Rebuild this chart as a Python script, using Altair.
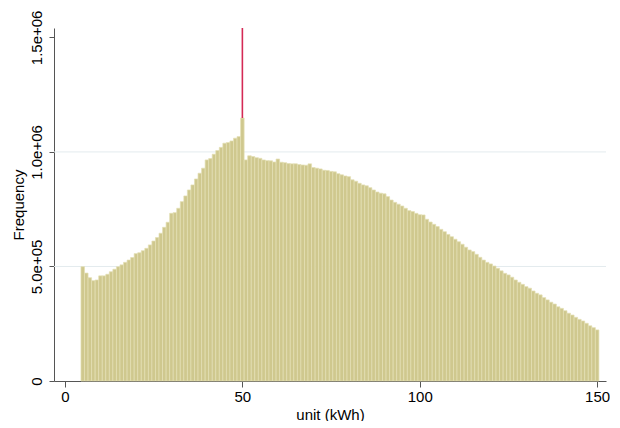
import altair as alt
import pandas as pd

# bin centres (unit, kWh) and frequencies
units = list(range(5, 151))
freq_k = [
    499, 471, 451, 438, 441, 459, 459, 466, 477, 488,
    499, 507, 518, 528, 539, 556, 560, 569, 579, 594,
    611, 626, 645, 671, 693, 732, 735, 754, 783, 808,
    834, 856, 882, 907, 929, 965, 971, 990, 1006, 1020,
    1038, 1041, 1048, 1060, 1067, 1148, 965, 983, 980, 975,
    972, 965, 962, 961, 956, 969, 955, 953, 949, 948,
    948, 945, 943, 942, 948, 932, 929, 926, 920, 919,
    915, 913, 905, 900, 895, 892, 878, 872, 863, 856,
    852, 844, 834, 825, 820, 817, 805, 790, 780, 772,
    764, 754, 744, 740, 732, 726, 725, 706, 694, 684,
    674, 662, 652, 640, 630, 619, 608, 597, 584, 572,
    565, 553, 540, 528, 518, 511, 502, 492, 481, 470,
    463, 453, 441, 431, 422, 412, 405, 393, 383, 376,
    364, 354, 344, 336, 324, 317, 307, 296, 288, 278,
    269, 262, 252, 241, 233, 223,
]
freq = [v * 1000 for v in freq_k]

marker_x = [50]
marker_lo = [1148000]
marker_hi = [1541000]

x_ticks = [0, 50, 100, 150]
y_ticks = [0, 500000, 1000000, 1500000]
grid_vals = [500000, 1000000]

x_domain = [-3.1, 152.5]
y_domain = [0, 1541000]

bars_df = pd.DataFrame({
    "lo": [u - 0.5 for u in units],
    "hi": [u + 0.5 for u in units],
    "freq": freq,
})
marker_df = pd.DataFrame({"x": marker_x, "lo": marker_lo, "hi": marker_hi})
grid_df = pd.DataFrame({"g": grid_vals})

FONT = "Liberation Sans"
FS = 15

xscale = alt.Scale(domain=x_domain, nice=False, zero=False)
yscale = alt.Scale(domain=y_domain, nice=False)

x_axis = alt.Axis(
    values=x_ticks, title="unit (kWh)", grid=False,
    domainColor="#555555", tickColor="#555555", tickSize=6,
    labelFont=FONT, labelFontSize=FS, labelColor="#000000", labelPadding=2,
    titleFont=FONT, titleFontSize=FS, titleFontWeight="normal", titleColor="#000000",
    titlePadding=3, labelFlush=False,
)
y_axis = alt.Axis(
    values=y_ticks, title="Frequency", grid=False,
    labelExpr="datum.value == 0 ? '0' : replace(format(datum.value, '.1e'), 'e+', 'e+0')",
    labelAngle=270, labelAlign="center", labelBaseline="bottom",
    domainColor="#555555", tickColor="#555555", tickSize=5,
    labelFont=FONT, labelFontSize=FS, labelColor="#000000", labelPadding=5,
    titleFont=FONT, titleFontSize=FS, titleFontWeight="normal", titleColor="#000000",
    titlePadding=3, labelFlush=False,
)

grid = alt.Chart(grid_df).mark_rule(color="#e3ebee", strokeWidth=1).encode(
    y=alt.Y("g:Q", scale=yscale, axis=y_axis),
)

bars = alt.Chart(bars_df).mark_rect(
    fill="#cfc88e", stroke="#e4dfb4", strokeWidth=0.7, opacity=1
).encode(
    x=alt.X("lo:Q", scale=xscale, axis=x_axis),
    x2="hi:Q",
    y=alt.Y("freq:Q", scale=yscale, axis=y_axis),
    y2=alt.datum(0),
)

marker = alt.Chart(marker_df).mark_rule(color="#d42a55", strokeWidth=1.6).encode(
    x=alt.X("x:Q", scale=xscale, axis=x_axis),
    y=alt.Y("lo:Q", scale=yscale, axis=y_axis),
    y2="hi:Q",
)

chart = alt.layer(grid, bars, marker).properties(
    width=552, height=353,
    autosize=alt.AutoSizeParams(type="none"),
    padding={"left": 46, "top": 20, "right": 4, "bottom": 40},
    background="#ffffff",
).configure_view(stroke=None)

chart.save("out.html", embed_options={"renderer": "svg", "actions": False})
